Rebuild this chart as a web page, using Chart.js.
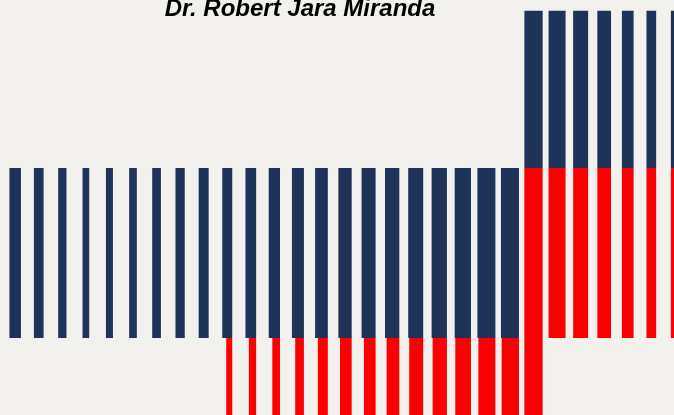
<!DOCTYPE html>
<html>
<head>
<meta charset="utf-8">
<script src="https://cdn.jsdelivr.net/npm/chart.js@4/dist/chart.umd.min.js"></script>
<style>
  html, body { margin: 0; padding: 0; background: #f3f1ed; }
  #wrap { width: 674px; height: 415px; position: relative; }
</style>
</head>
<body>
<div id="wrap"><canvas id="c"></canvas></div>
<script>
// ---- data ----
const titleText = "Dr. Robert Jara Miranda";
const columns = [0,1,2,3,4,5,6,7,8,9,10,11,12,13,14,15,16,17,18,19,20,21,22,23,24,25,26,27,28];
const navyLow  = [0,0,0,0,0,0,0,0,0,0,0,0,0,0,0,0,0,0,0,0,0,0,1,1,1,1,1,1,1];
const navyHigh = [1,1,1,1,1,1,1,1,1,1,1,1,1,1,1,1,1,1,1,1,1,1,1.926,1.926,1.926,1.926,1.926,1.926,1.926];
const redLow   = [null,null,null,null,null,null,null,null,null,-0.5,-0.5,-0.5,-0.5,-0.5,-0.5,-0.5,-0.5,-0.5,-0.5,-0.5,-0.5,-0.5,-0.5,0,0,0,0,0,0];
const redHigh  = [null,null,null,null,null,null,null,null,null,0,0,0,0,0,0,0,0,0,0,0,0,0,1,1,1,1,1,1,1];

// ---- styles ----
const navyWidths = [11.5,9.7,8.3,6.7,7,7.7,8.7,9.3,10,10,10.7,11.3,12,12.7,13.3,14,14.3,15,15.3,16.3,18,18,18.3,17,15,13.7,11.7,9.7,8];
const redWidths  = [0,0,0,0,0,0,0,0,0,6,7.3,7.7,8.7,10,11.7,11.7,12.7,14,14.3,15.7,17,17.3,18.3,17,15,13.7,11.7,9.7,8];
const NAVY = '#1f3358';
const RED = '#fa0000';
const BG = '#f3f1ed';

const navyData = columns.map((c, i) => ({x: c, y: [navyLow[i], navyHigh[i]]}));
const redData = columns.map((c, i) => ({x: c, y: (redLow[i] === null ? null : [redLow[i], redHigh[i]])}));

const bgPlugin = {
  id: 'bg',
  beforeDraw(chart) {
    const ctx = chart.ctx;
    ctx.save();
    ctx.fillStyle = BG;
    ctx.fillRect(0, 0, chart.width, chart.height);
    ctx.restore();
  }
};

const widthPlugin = {
  id: 'barWidths',
  afterDatasetsUpdate(chart) {
    const navyMeta = chart.getDatasetMeta(0);
    const redMeta = chart.getDatasetMeta(1);
    navyMeta.data.forEach((el, i) => { el.width = navyWidths[i]; });
    redMeta.data.forEach((el, i) => {
      const nav = navyMeta.data[i];
      el.width = redWidths[i];
      el.x = nav.x + (navyWidths[i] - redWidths[i]) / 2;
    });
  }
};

const titlePlugin = {
  id: 'customTitle',
  afterDraw(chart) {
    const ctx = chart.ctx;
    ctx.save();
    ctx.font = 'italic bold 24px "Liberation Sans", Arial, sans-serif';
    ctx.fillStyle = '#000000';
    ctx.textAlign = 'center';
    ctx.textBaseline = 'alphabetic';
    ctx.fillText(titleText, 300, 15.7);
    ctx.restore();
  }
};

new Chart(document.getElementById('c'), {
  type: 'bar',
  data: {
    datasets: [
      { label: 'navy', data: navyData, backgroundColor: NAVY, grouped: false, borderWidth: 0, clip: false },
      { label: 'red', data: redData, backgroundColor: RED, grouped: false, borderWidth: 0, clip: false }
    ]
  },
  options: {
    responsive: true,
    maintainAspectRatio: false,
    animation: false,
    layout: { padding: 0 },
    plugins: { legend: { display: false }, title: { display: false }, tooltip: { enabled: false } },
    scales: {
      x: { type: 'linear', display: false, min: -0.645, max: 27.963, offset: false },
      y: { type: 'linear', display: false, min: -77 / 170.1, max: 338.3 / 170.1 }
    }
  },
  plugins: [bgPlugin, widthPlugin, titlePlugin]
});
</script>
</body>
</html>
